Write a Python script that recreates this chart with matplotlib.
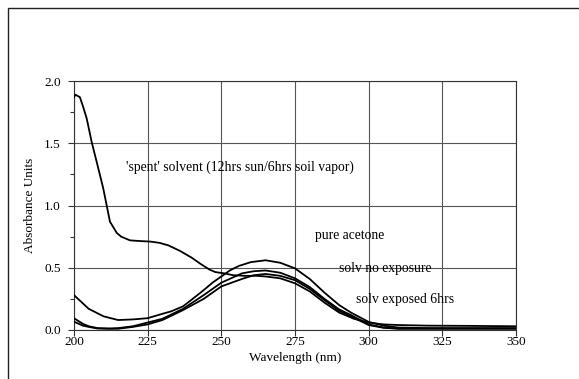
import matplotlib.pyplot as plt
import matplotlib.ticker as ticker
from matplotlib.patches import Rectangle

plt.rcParams["font.family"] = ["Liberation Serif", "DejaVu Serif"]

# 'spent' solvent (12hrs sun / 6hrs soil vapor)
spent_nm = [200, 200.5, 202, 203, 204.3, 206, 207.7, 209.9, 211.1, 212.2, 214.5,
            216, 219, 222, 226, 229, 232, 236, 240, 243, 246, 248, 251, 254,
            258, 262, 265, 270, 275, 280, 285, 290, 295, 300, 305, 310, 320,
            335, 350]
spent_abs = [1.87, 1.89, 1.87, 1.80, 1.70, 1.51, 1.35, 1.14, 1.00, 0.87, 0.78,
             0.75, 0.72, 0.715, 0.71, 0.70, 0.68, 0.635, 0.58, 0.53, 0.485, 0.465,
             0.455, 0.44, 0.435, 0.435, 0.43, 0.415, 0.375, 0.31, 0.22, 0.14,
             0.09, 0.06, 0.045, 0.04, 0.035, 0.033, 0.03]

# pure acetone
acetone_nm = [200, 205, 210, 215, 220, 225, 230, 233, 237, 240, 244, 247, 250,
              253, 256, 260, 265, 270, 275, 280, 285, 290, 294, 300, 305, 310,
              320, 335, 350]
acetone_abs = [0.28, 0.17, 0.11, 0.08, 0.085, 0.095, 0.13, 0.15, 0.19, 0.245,
               0.32, 0.38, 0.43, 0.48, 0.515, 0.545, 0.56, 0.54, 0.495, 0.41,
               0.30, 0.20, 0.14, 0.065, 0.035, 0.02, 0.015, 0.015, 0.015]

# solv no exposure
noexp_nm = [200, 203, 205, 208, 212, 215, 220, 225, 230, 237, 244, 250, 257,
            261, 265, 270, 275, 280, 285, 290, 294, 300, 305, 310, 320, 335, 350]
noexp_abs = [0.094, 0.05, 0.03, 0.015, 0.012, 0.015, 0.03, 0.06, 0.09, 0.17,
             0.28, 0.38, 0.455, 0.472, 0.478, 0.46, 0.415, 0.345, 0.25, 0.165,
             0.12, 0.045, 0.02, 0.012, 0.012, 0.012, 0.012]

# solv exposed 6hrs
exp6_nm = [200, 203, 205, 208, 212, 215, 220, 225, 230, 237, 244, 250, 257,
           261, 265, 270, 275, 280, 285, 290, 294, 300, 305, 310, 320, 335, 350]
exp6_abs = [0.067, 0.035, 0.025, 0.012, 0.01, 0.01, 0.025, 0.045, 0.08, 0.16,
            0.25, 0.35, 0.41, 0.44, 0.45, 0.435, 0.40, 0.33, 0.24, 0.155,
            0.11, 0.04, 0.018, 0.01, 0.01, 0.01, 0.01]

fig = plt.figure(figsize=(5.79, 3.79), dpi=100)
ax = fig.add_axes([74 / 579, 49 / 379, 442 / 579, 249 / 379])

# outer frame around the chart area
fig.patches.append(Rectangle((8 / 579, -0.1), 1.2, (371 / 379) + 0.1,
                             transform=fig.transFigure, fill=False,
                             edgecolor="#222222", linewidth=1.0))

for xs, ys in [(spent_nm, spent_abs), (acetone_nm, acetone_abs),
               (noexp_nm, noexp_abs), (exp6_nm, exp6_abs)]:
    ax.plot(xs, ys, color="black", linewidth=1.3, zorder=3)

ax.set_xlim(200, 350)
ax.set_ylim(0, 2.0)
ax.xaxis.set_major_locator(ticker.MultipleLocator(25))
ax.yaxis.set_major_locator(ticker.MultipleLocator(0.5))
ax.yaxis.set_minor_locator(ticker.MultipleLocator(0.25))
ax.yaxis.set_major_formatter(ticker.FormatStrFormatter("%.1f"))
ax.grid(True, which="major", color="#555555", linewidth=0.8)
ax.tick_params(which="both", direction="out", labelsize=9.5, color="#333333")
ax.tick_params(which="major", length=4, width=0.8)
ax.tick_params(which="minor", length=3, width=0.8)
ax.tick_params(axis="y", which="major", pad=5.5)
ax.tick_params(axis="x", which="major", pad=0.5)
for s in ax.spines.values():
    s.set_color("#333333")
    s.set_linewidth(0.8)

ax.set_xlabel("Wavelength (nm)", fontsize=9.5, labelpad=3)
ax.set_ylabel("Absorbance Units", fontsize=9.5, labelpad=6)

ax.text(217.6, 1.31, "'spent' solvent (12hrs sun/6hrs soil vapor)", fontsize=9.8,
        va="center", ha="left")
ax.text(281.8, 0.758, "pure acetone", fontsize=9.8, va="center", ha="left")
ax.text(290.0, 0.490, "solv no exposure", fontsize=9.8, va="center", ha="left")
ax.text(295.7, 0.241, "solv exposed 6hrs", fontsize=9.8, va="center", ha="left")

fig.savefig("out.png", dpi=100)
